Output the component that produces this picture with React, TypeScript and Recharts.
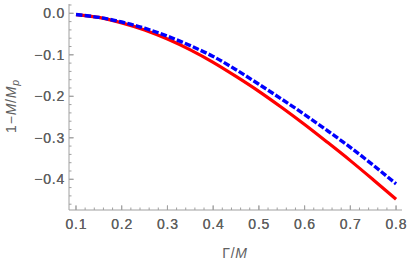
import { LineChart, Line, XAxis, YAxis, Label } from 'recharts'

const gamma = [0.1, 0.15, 0.2, 0.25, 0.3, 0.35, 0.4, 0.45, 0.5, 0.55, 0.6, 0.65, 0.7, 0.75, 0.8]
const redValues = [-0.003, -0.01, -0.023, -0.04, -0.062, -0.088, -0.118, -0.152, -0.188, -0.227, -0.268, -0.311, -0.355, -0.401, -0.448]
const blueValues = [-0.003, -0.01, -0.021, -0.036, -0.055, -0.078, -0.104, -0.136, -0.171, -0.207, -0.244, -0.283, -0.323, -0.366, -0.411]

const xMajor = [0.1, 0.2, 0.3, 0.4, 0.5, 0.6, 0.7, 0.8]
const yMajor = [0, -0.1, -0.2, -0.3, -0.4]

const data = gamma.map((g, i) => ({ g, red: redValues[i], blue: blueValues[i] }))

const X_DOMAIN = [0.0847, 0.813]
const Y_DOMAIN = [-0.474, 0.0224]

function minorTicks(lo: number, hi: number, step: number) {
  const out: number[] = []
  for (let k = Math.ceil(lo / step - 1e-9); k * step <= hi + 1e-9; k++) {
    out.push(Math.round(k * step * 1000) / 1000)
  }
  return out
}

const xTicks = minorTicks(X_DOMAIN[0], X_DOMAIN[1], 0.02).concat(xMajor)
const yTicks = minorTicks(Y_DOMAIN[0], Y_DOMAIN[1], 0.02).concat(yMajor)

const isMajor = (v: number) => Math.abs(v * 10 - Math.round(v * 10)) < 1e-6
const fmt = (v: number) => (v < -1e-9 ? '\u2212' : '') + Math.abs(v).toFixed(1)

const FRAME = '#a0a0a0'
const TEXT = '#606060'
const textStyle = { fontFamily: "'Liberation Sans', Arial, sans-serif", fontSize: 14, letterSpacing: 0.8 }

// side: which frame edge the tick sits on; ticks point inward
function FrameTick(props: any) {
  const { x, y, payload, side } = props
  const v = payload.value
  const len = isMajor(v) ? 4.5 : 2.5
  const showLabel = isMajor(v) && (side === 'bottom' || side === 'left')
  let line
  if (side === 'bottom') line = <line x1={x} x2={x} y1={y} y2={y - len} stroke={FRAME} />
  else if (side === 'top') line = <line x1={x} x2={x} y1={y} y2={y + len} stroke={FRAME} />
  else if (side === 'left') line = <line x1={x} x2={x + len} y1={y} y2={y} stroke={FRAME} />
  else line = <line x1={x} x2={x - len} y1={y} y2={y} stroke={FRAME} />
  return (
    <g>
      {line}
      {showLabel && side === 'bottom' && (
        <text x={x + 0.4} y={y + 19} textAnchor="middle" fill={TEXT} style={textStyle}>
          {fmt(v)}
        </text>
      )}
      {showLabel && side === 'left' && (
        <text x={x - 4} y={y + 5} textAnchor="end" fill={TEXT} style={textStyle}>
          {fmt(v)}
        </text>
      )}
    </g>
  )
}

function YTitle(props: any) {
  const cx = 12
  const cy = 106
  return (
    <text
      x={cx}
      y={cy}
      transform={`rotate(-90 ${cx} ${cy})`}
      textAnchor="middle"
      fill={TEXT}
      style={textStyle}
      dominantBaseline="middle"
    >
      <tspan>1−</tspan>
      <tspan fontStyle="italic">M</tspan>
      <tspan>/</tspan>
      <tspan fontStyle="italic">M</tspan>
      <tspan fontStyle="italic" fontSize={10.5} dy={4}>p</tspan>
    </text>
  )
}

function XTitle(props: any) {
  return (
    <text x={235} y={258} textAnchor="middle" fill={TEXT} style={textStyle}>
      <tspan>Γ/</tspan>
      <tspan fontStyle="italic">M</tspan>
    </text>
  )
}

export default function App() {
  return (
    <div style={{ position: 'absolute', left: 0, top: 0, width: 409, height: 260, background: '#fff' }}>
      <LineChart width={409} height={260} data={data} margin={{ top: 4, right: 7, bottom: 0, left: 0 }}>
        <XAxis
          xAxisId="b"
          dataKey="g"
          type="number"
          domain={X_DOMAIN}
          allowDataOverflow
          ticks={xTicks}
          interval={0}
          height={50}
          tickSize={0}
          tickMargin={0}
          tickLine={false}
          axisLine={{ stroke: FRAME }}
          tick={<FrameTick side="bottom" />}
        >
          <Label content={<XTitle />} />
        </XAxis>
        <XAxis
          xAxisId="t"
          orientation="top"
          dataKey="g"
          type="number"
          domain={X_DOMAIN}
          allowDataOverflow
          ticks={xTicks}
          interval={0}
          height={0}
          tickSize={0}
          tickMargin={0}
          tickLine={false}
          axisLine={{ stroke: FRAME }}
          tick={<FrameTick side="top" />}
        />
        <YAxis
          yAxisId="l"
          type="number"
          domain={Y_DOMAIN}
          allowDataOverflow
          ticks={yTicks}
          interval={0}
          width={69}
          tickSize={0}
          tickMargin={0}
          tickLine={false}
          axisLine={{ stroke: FRAME }}
          tick={<FrameTick side="left" />}
        >
          <Label content={<YTitle />} />
        </YAxis>
        <YAxis
          yAxisId="r"
          orientation="right"
          type="number"
          domain={Y_DOMAIN}
          allowDataOverflow
          ticks={yTicks}
          interval={0}
          width={0}
          tickSize={0}
          tickMargin={0}
          tickLine={false}
          axisLine={{ stroke: FRAME }}
          tick={<FrameTick side="right" />}
        />
        <Line
          xAxisId="b"
          yAxisId="l"
          type="monotone"
          dataKey="red"
          stroke="#ff0000"
          strokeWidth={3.2}
          dot={false}
          isAnimationActive={false}
        />
        <Line
          xAxisId="b"
          yAxisId="l"
          type="monotone"
          dataKey="blue"
          stroke="#0000ff"
          strokeWidth={3.4}
          strokeDasharray="6.5 2.2"
          dot={false}
          isAnimationActive={false}
        />
      </LineChart>
    </div>
  )
}
